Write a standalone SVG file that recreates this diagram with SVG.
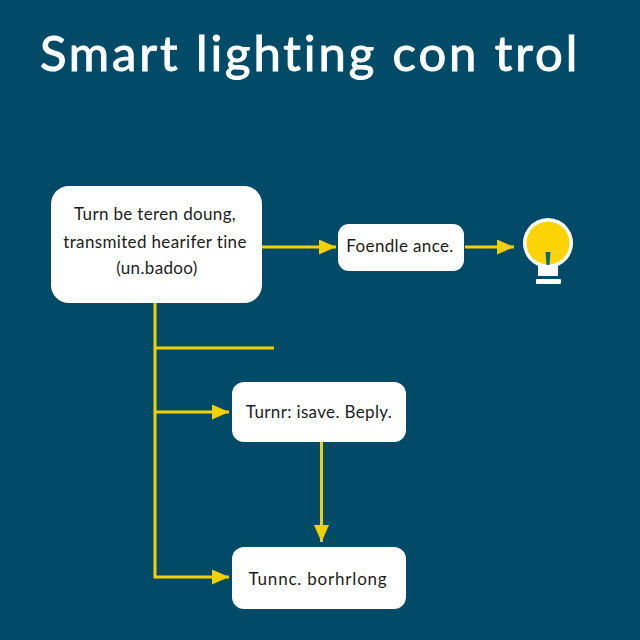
<svg xmlns="http://www.w3.org/2000/svg" width="640" height="640" viewBox="0 0 640 640">
<style>
text{font-family:"Lato","Noto Sans",sans-serif;fill:#1c1c1c;text-anchor:middle}
.n{fill:#fff}
.c{fill:none;stroke:#f5d000;stroke-width:3}
.t{font-size:17px;letter-spacing:.35px}
</style>
<defs>
<marker id="a" markerUnits="userSpaceOnUse" markerWidth="17" markerHeight="15" refX="17" refY="7.500" orient="auto"><path d="M0 0L17 7.500L0 15Z" fill="#f5d000"/></marker>
</defs>
<rect width="640" height="640" fill="#024b68"/>
<text x="310" y="71" style="font-size:49px;fill:#fff;stroke:#fff;stroke-width:1;letter-spacing:2.900px">Smart lighting con trol</text>
<g id="connectors">
<path class="c" d="M262 247H336" marker-end="url(#a)"/>
<path class="c" d="M465 247H514" marker-end="url(#a)"/>
<path class="c" d="M155 303V577H229" marker-end="url(#a)"/>
<path class="c" d="M155 348H274"/>
<path class="c" d="M155 412H229" marker-end="url(#a)"/>
<path class="c" d="M321.500 441V542" marker-end="url(#a)"/>
</g>
<g id="node1"><rect class="n" x="51" y="186" width="211" height="117" rx="18"/>
<text class="t" x="155" y="220">Turn be teren doung,</text>
<text class="t" x="155" y="248">transmited hearifer tine</text>
<text class="t" x="157" y="274">(un.badoo)</text></g>
<g id="node2"><rect class="n" x="338" y="224" width="126" height="47" rx="11"/>
<text class="t" x="400" y="252">Foendle ance.</text></g>
<g id="node3"><rect class="n" x="232" y="382" width="174" height="60" rx="12"/>
<text class="t" x="319" y="418">Turnr: isave. Beply.</text></g>
<g id="node4"><rect class="n" x="232" y="547" width="174" height="62" rx="12"/>
<text class="t" x="318" y="585" style="letter-spacing:.8px">Tunnc. borhrlong</text></g>
<g id="bulb">
<path d="M538 276V265.900A25 25 0 1 1 558 265.900V276Z" fill="#fff"/>
<rect x="536" y="279" width="25" height="5" rx="1" fill="#fff"/>
<circle cx="548" cy="243" r="21.500" fill="#fcd405"/>
<path d="M545.500 252H550.500L549.500 265H546.500Z" fill="#0b6a70"/>
</g>
</svg>
